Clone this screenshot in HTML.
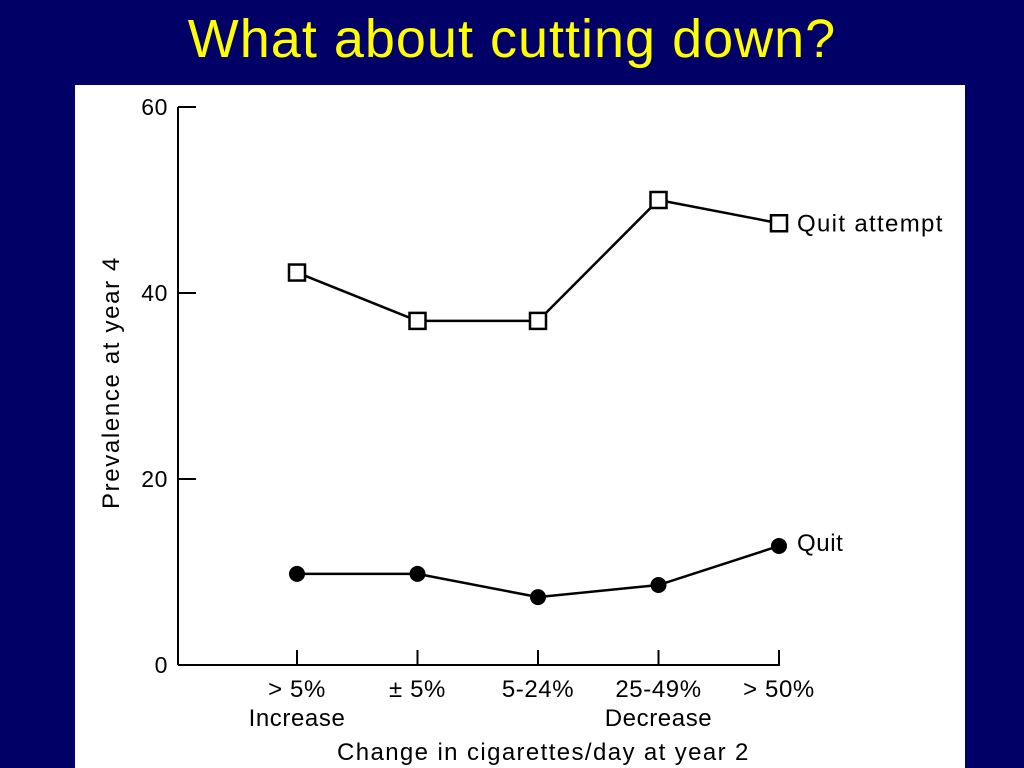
<!DOCTYPE html>
<html><head><meta charset="utf-8"><style>
body{margin:0;width:1024px;height:768px;background:#000066;overflow:hidden;font-family:"Liberation Sans",sans-serif}
#title{position:absolute;left:0;width:1024px;top:8px;text-align:center;color:#ffff00;font-size:54px;letter-spacing:1px}
#panel{position:absolute;left:75px;top:85px;width:890px;height:683px;background:#fff}
#chart text{letter-spacing:0.6px}
</style></head><body>
<div id="title">What about cutting down?</div>
<div id="panel"></div>
<svg id="chart" width="1024" height="768" style="position:absolute;left:0;top:0"></svg>
<script>
const categories=["> 5%","± 5%","5-24%","25-49%","> 50%"];
const quitAttempt=[42.2,37,37,50,47.5];
const quit=[9.8,9.8,7.3,8.6,12.8];
const yTicks=[0,20,40,60];
const svg=document.getElementById('chart');
const NS='http://www.w3.org/2000/svg';
const y=v=>665-v*(558/60);
const x=i=>297+i*120.5;
function mk(t,a,parent){const e=document.createElementNS(NS,t);for(const k in a)e.setAttribute(k,a[k]);(parent||svg).appendChild(e);return e;}
let e;
e=mk('line',{x1:178,y1:107,x2:178,y2:665,stroke:'#000','stroke-width':2});


e=mk('line',{x1:178,y1:665,x2:780,y2:665,stroke:'#000','stroke-width':2});


yTicks.forEach(v=>{
 e=mk('line',{x1:178,y1:y(v),x2:196,y2:y(v),stroke:'#000','stroke-width':2});
 
 
 e=mk('text',{x:168,y:y(v)+8,'text-anchor':'end','font-size':23,fill:'#000'});e.textContent=v;
 
 
});
categories.forEach((c,i)=>{
 e=mk('line',{x1:x(i),y1:650,x2:x(i),y2:665,stroke:'#000','stroke-width':2});
 
 
 e=mk('text',{x:x(i),y:697,'text-anchor':'middle','font-size':24,fill:'#000'});e.textContent=c;
 
 
});
[["Increase",0],["Decrease",3]].forEach(([t,i])=>{
 e=mk('text',{x:x(i),y:726,'text-anchor':'middle','font-size':24,fill:'#000'});e.textContent=t;
 
 
});
e=mk('text',{x:543,y:760,'text-anchor':'middle','font-size':24,fill:'#000',textLength:412});e.textContent='Change in cigarettes/day at year 2';


e=mk('text',{x:0,y:0,'text-anchor':'middle','font-size':24,fill:'#000',transform:'translate(119,383) rotate(-90)',textLength:252});e.textContent='Prevalence at year 4';


function series(vals,name,square){
 e=mk('polyline',{points:vals.map((v,i)=>x(i)+','+y(v)).join(' '),fill:'none',stroke:'#000','stroke-width':2.5});
 
 
 vals.forEach((v,i)=>{
  if(square) e=mk('rect',{x:x(i)-8,y:y(v)-8,width:16,height:16,fill:'#fff',stroke:'#000','stroke-width':2.5});
  else e=mk('circle',{cx:x(i),cy:y(v),r:8,fill:'#000'});
  
  
 });
}
series(quitAttempt,'quit-attempt',true);
series(quit,'quit',false);
e=mk('text',{x:797,y:y(quitAttempt[4])+8,'font-size':24,fill:'#000',textLength:146});e.textContent='Quit attempt';


e=mk('text',{x:797,y:y(quit[4])+5,'font-size':24,fill:'#000'});e.textContent='Quit';


</script>
</body></html>
